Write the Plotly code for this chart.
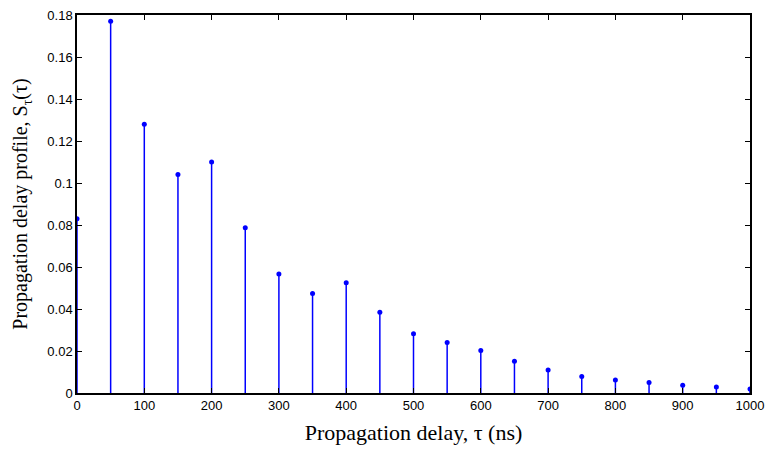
import plotly.graph_objects as go

delays = [0, 50, 100, 150, 200, 250, 300, 350, 400, 450, 500, 550, 600, 650, 700, 750, 800, 850, 900, 950, 1000]
profile = [0.083, 0.177, 0.128, 0.104, 0.110, 0.0787, 0.0567, 0.0474, 0.0525, 0.0385, 0.0282, 0.024,
           0.0202, 0.0151, 0.0109, 0.0078, 0.0062, 0.005, 0.0037, 0.0028, 0.0019]
x_ticks = list(range(0, 1001, 100))
y_ticks = [0, 0.02, 0.04, 0.06, 0.08, 0.1, 0.12, 0.14, 0.16, 0.18]
y_tick_text = ["0", "0.02", "0.04", "0.06", "0.08", "0.1", "0.12", "0.14", "0.16", "0.18"]

stem_x, stem_y = [], []
for d, p in zip(delays, profile):
    stem_x += [d, d, None]
    stem_y += [0, p, None]

fig = go.Figure()
fig.add_trace(go.Scatter(x=stem_x, y=stem_y, mode="lines",
                         line=dict(color="#0000ff", width=1.5), hoverinfo="skip", showlegend=False))
fig.add_trace(go.Scatter(x=delays, y=profile, mode="markers",
                         marker=dict(color="#0000ff", size=5), showlegend=False))

axis_common = dict(showline=True, linecolor="black", linewidth=1.5, mirror="ticks",
                   ticks="inside", ticklen=5, tickcolor="black", tickwidth=1, showgrid=False, zeroline=False,
                   tickfont=dict(family="Liberation Sans, Arial", size=13, color="black"))

fig.update_xaxes(range=[0, 1000], tickvals=x_ticks, ticktext=[str(t) for t in x_ticks],
                 title=dict(text="Propagation delay, τ (ns)", standoff=12,
                            font=dict(family="Liberation Serif, Times New Roman", size=22, color="black")),
                 **axis_common)
fig.update_yaxes(range=[0, 0.18], tickvals=y_ticks, ticktext=y_tick_text,
                 title=dict(text="Propagation delay profile, S<sub>τ</sub>(τ)", standoff=14,
                            font=dict(family="Liberation Serif, Times New Roman", size=20, color="black")),
                 **axis_common)

fig.update_layout(width=772, height=453, plot_bgcolor="white", paper_bgcolor="white",
                  margin=dict(l=77, r=17, t=8, b=60))

fig.write_html("out.html")
